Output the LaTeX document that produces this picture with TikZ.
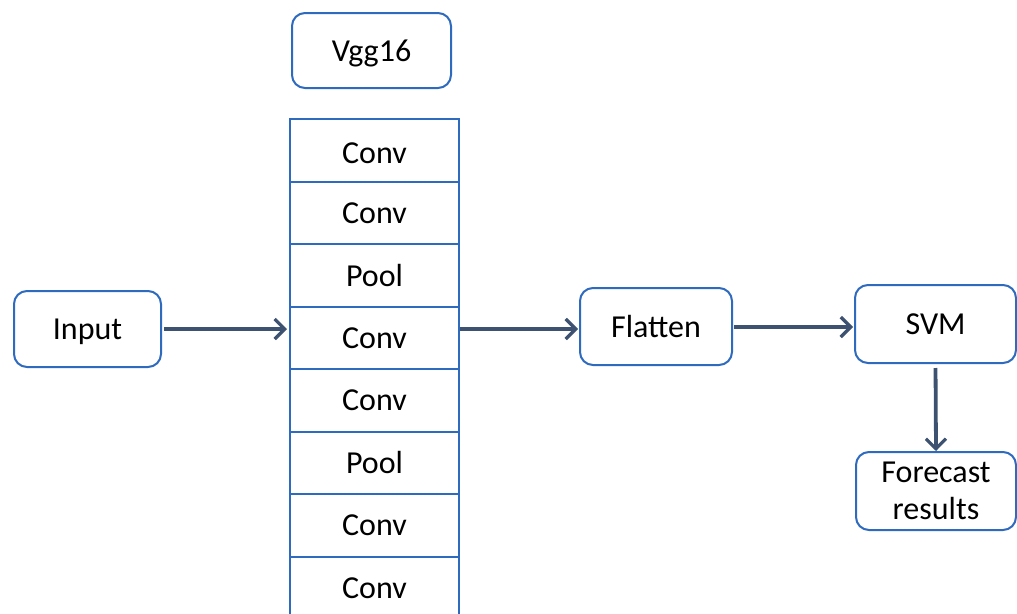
\documentclass[tikz,border=0pt]{standalone}
\usepackage{fontspec}
\setmainfont{Carlito}
\usetikzlibrary{arrows.meta}
\definecolor{boxblue}{RGB}{46,106,190}
\definecolor{arrowc}{RGB}{60,82,112}
\tikzset{
  rbox/.style={draw=boxblue, line width=2pt, rounded corners=13pt, fill=white,
    font=\fontsize{32}{37}\selectfont, align=center, inner sep=0pt},
  layer/.style={draw=boxblue, line width=2pt, minimum width=169pt, minimum height=62.5pt,
    font=\fontsize{32}{37}\selectfont, inner sep=0pt, anchor=north, text depth=0pt},
  flow/.style={draw=arrowc, line width=3.8pt, -{Straight Barb[length=10pt,width=20pt,line width=3.2pt]}}
}
\begin{document}
\begin{tikzpicture}[x=1pt,y=-1pt]
\useasboundingbox (0,0) rectangle (1017,613);
\begin{scope}
\clip (0,0) rectangle (1017,613);
\node[rbox, minimum width=159pt, minimum height=75pt, text depth=0pt] (vgg) at (371.5,50.5) {Vgg16};
\node[layer] (r1) at (374.5,118) {\raisebox{-5pt}{Conv}};
\node[layer] (r2) at (374.5,180.5) {Conv};
\node[layer] (r3) at (374.5,243) {Pool};
\node[layer] (r4) at (374.5,305.5) {Conv};
\node[layer] (r5) at (374.5,368) {Conv};
\node[layer] (r6) at (374.5,430.5) {Pool};
\node[layer] (r7) at (374.5,493) {Conv};
\node[layer] (r8) at (374.5,555.5) {Conv};
\end{scope}
\node[rbox, minimum width=147pt, minimum height=76pt, text depth=0pt] (in) at (87.5,329) {Input};
\node[rbox, minimum width=152pt, minimum height=77pt, text depth=0pt] (fl) at (656,326.5) {Flatten};
\node[rbox, minimum width=161pt, minimum height=78pt, text depth=0pt] (svm) at (935.5,324) {SVM};
\node[rbox, minimum width=160pt, minimum height=78pt] (fc) at (936,491) {Forecast\\results};
\draw[flow, shorten <=2pt, shorten >=2pt] (in.east) -- (in.east -| r4.west);
\draw[flow, shorten >=1pt] (r4.east |- 0,329) -- (fl.west |- 0,329);
\draw[flow, shorten <=1pt, shorten >=1pt] (fl.east |- 0,327) -- (svm.west |- 0,327);
\draw[flow, shorten <=4pt] (svm.south) -- (fc.north);
\end{tikzpicture}
\end{document}
